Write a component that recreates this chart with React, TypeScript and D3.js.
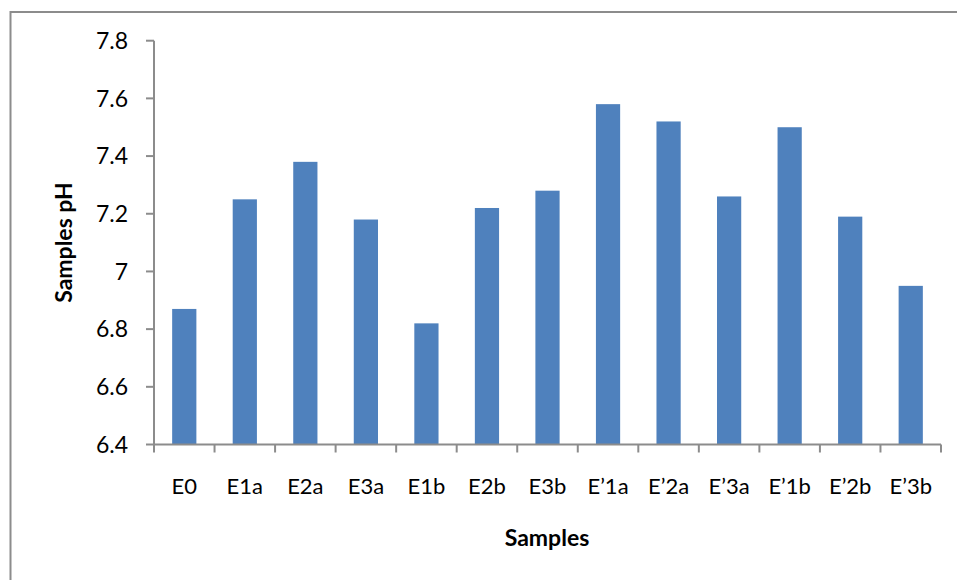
import React, { useEffect, useRef } from "react";
import * as d3 from "d3";

const categories = ["E0", "E1a", "E2a", "E3a", "E1b", "E2b", "E3b", "E\u20191a", "E\u20192a", "E\u20193a", "E\u20191b", "E\u20192b", "E\u20193b"];
const phValues = [6.87, 7.25, 7.38, 7.18, 6.82, 7.22, 7.28, 7.58, 7.52, 7.26, 7.5, 7.19, 6.95];
const yTicks = [6.4, 6.6, 6.8, 7, 7.2, 7.4, 7.6, 7.8];
const yTitle = "Samples pH";
const xTitle = "Samples";

const W = 957;
const H = 580;
const plot = { left: 154, right: 941, top: 40.7, bottom: 444.5 };
const FONT = "Lato, 'Open Sans', sans-serif";

export default function App() {
  const ref = useRef<SVGSVGElement>(null);

  useEffect(() => {
    const svg = d3.select(ref.current);
    svg.selectAll("*").remove();

    const x = d3.scaleBand<string>().domain(categories).range([plot.left, plot.right]).paddingInner(0.6).paddingOuter(0.3);
    const xOuter = d3.scaleBand<string>().domain(categories).range([plot.left, plot.right]);
    const y = d3.scaleLinear().domain([6.4, 7.8]).range([plot.bottom, plot.top]);

    svg.append("rect").attr("width", W).attr("height", H).attr("fill", "#fff");
    // outer chart frame
    svg.append("rect").attr("x", 10.5).attr("y", 12).attr("width", W + 20).attr("height", H + 20)
      .attr("fill", "none").attr("stroke", "#8c8c8c").attr("stroke-width", 2);

    // bars
    svg.append("g").selectAll("rect").data(categories).join("rect")
      .attr("x", (d) => x(d)!)
      .attr("width", x.bandwidth())
      .attr("y", (_, i) => y(phValues[i]))
      .attr("height", (_, i) => y(6.4) - y(phValues[i]))
      .attr("fill", "#4F81BD");

    const axisColor = "#8c8c8c";
    // y axis
    const gy = svg.append("g");
    gy.append("line").attr("x1", plot.left).attr("x2", plot.left).attr("y1", plot.top).attr("y2", plot.bottom)
      .attr("stroke", axisColor).attr("stroke-width", 2);
    gy.selectAll("line.t").data(yTicks).join("line").attr("class", "t")
      .attr("x1", plot.left - 8).attr("x2", plot.left).attr("y1", (d) => y(d)).attr("y2", (d) => y(d))
      .attr("stroke", axisColor).attr("stroke-width", 2);
    gy.selectAll("text").data(yTicks).join("text")
      .attr("x", 128).attr("y", (d) => y(d)).attr("dy", "0.36em")
      .attr("text-anchor", "end").attr("font-family", FONT).attr("font-size", 23).attr("fill", "#000")
      .text((d) => d3.format("")(d));

    // x axis
    const gx = svg.append("g");
    gx.append("line").attr("x1", plot.left).attr("x2", plot.right).attr("y1", plot.bottom).attr("y2", plot.bottom)
      .attr("stroke", axisColor).attr("stroke-width", 2);
    const edges = categories.map((c) => xOuter(c)!).concat([plot.right]);
    gx.selectAll("line.t").data(edges).join("line").attr("class", "t")
      .attr("x1", (d) => d).attr("x2", (d) => d).attr("y1", plot.bottom).attr("y2", plot.bottom + 8)
      .attr("stroke", axisColor).attr("stroke-width", 2);
    gx.selectAll("text").data(categories).join("text")
      .attr("x", (d) => xOuter(d)! + xOuter.bandwidth() / 2).attr("y", 494)
      .attr("text-anchor", "middle").attr("font-family", FONT).attr("font-size", 22).attr("fill", "#000")
      .text((d) => d);

    // titles
    svg.append("text").attr("x", 547).attr("y", 546).attr("text-anchor", "middle")
      .attr("font-family", FONT).attr("font-weight", "bold").attr("font-size", 23).text(xTitle);
    svg.append("text").attr("transform", `translate(71.5,242.5) rotate(-90)`).attr("text-anchor", "middle")
      .attr("font-family", FONT).attr("font-weight", "bold").attr("font-size", 23).text(yTitle);
  }, []);

  return (
    <svg ref={ref} width={W} height={H} style={{ position: "absolute", left: 0, top: 0 }} />
  );
}
